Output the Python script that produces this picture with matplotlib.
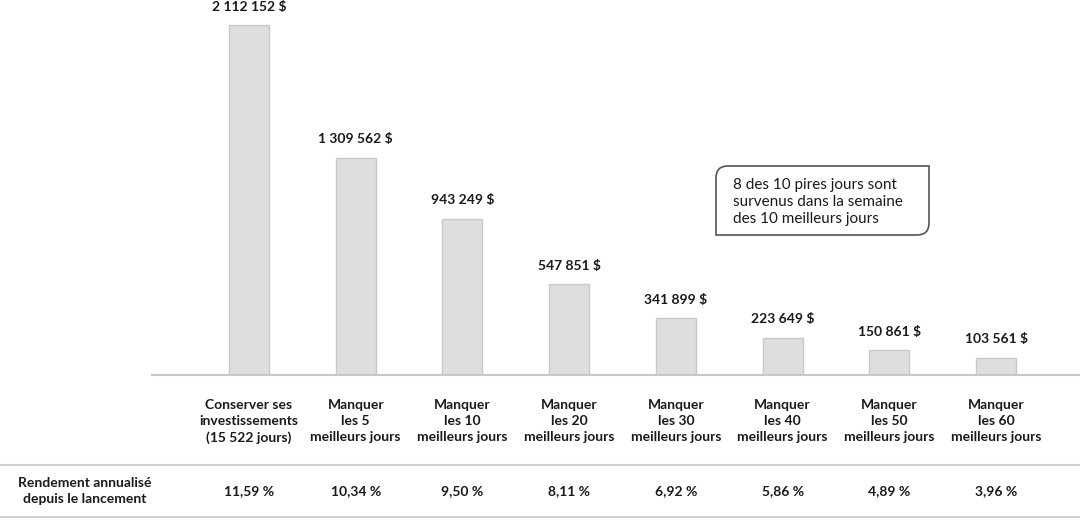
import matplotlib
matplotlib.use("Agg")
import matplotlib.pyplot as plt
from matplotlib.path import Path
from matplotlib.patches import PathPatch

categories = ["Conserver ses\ninvestissements\n(15 522 jours)",
              "Manquer\nles 5\nmeilleurs jours",
              "Manquer\nles 10\nmeilleurs jours",
              "Manquer\nles 20\nmeilleurs jours",
              "Manquer\nles 30\nmeilleurs jours",
              "Manquer\nles 40\nmeilleurs jours",
              "Manquer\nles 50\nmeilleurs jours",
              "Manquer\nles 60\nmeilleurs jours"]
values = [2112152, 1309562, 943249, 547851, 341899, 223649, 150861, 103561]
value_labels = ["2 112 152 $", "1 309 562 $", "943 249 $", "547 851 $",
                "341 899 $", "223 649 $", "150 861 $", "103 561 $"]
returns = ["11,59 %", "10,34 %", "9,50 %", "8,11 %", "6,92 %", "5,86 %", "4,89 %", "3,96 %"]
row_label = "Rendement annualisé\ndepuis le lancement"
note = "8 des 10 pires jours sont\nsurvenus dans la semaine\ndes 10 meilleurs jours"

plt.rcParams['font.family'] = ['Lato', 'DejaVu Sans']
W, H = 1080, 525
fig = plt.figure(figsize=(W / 100, H / 100), dpi=100)

def fx(px):
    return px / W

def fy(py):
    return 1 - py / H

ax = fig.add_axes([fx(152), fy(375), fx(1080 - 152), fy(0) - fy(375)])
x = list(range(len(values)))
ax.bar(x, values, width=0.375, color="#dedede", edgecolor="#c9c9c9", linewidth=1, zorder=2)
ax.set_xlim(-0.909, 7.787)
ax.set_ylim(0, max(values) * 375 / 350)
for s in ["top", "right", "left"]:
    ax.spines[s].set_visible(False)
ax.spines["bottom"].set_color("#c8c8c8")
ax.spines["bottom"].set_linewidth(1.5)
ax.set_yticks([])
ax.set_xticks(x)
ax.set_xticklabels(categories, fontsize=10, fontweight="bold", color="#1a1a1a", linespacing=1.4)
ax.tick_params(axis="x", length=0, pad=17)

for xi, v, lab in zip(x, values, value_labels):
    ax.annotate(lab, (xi, v), xytext=(0, 9), textcoords="offset points",
                ha="center", va="bottom", fontsize=10, fontweight="bold", color="#1a1a1a")

# table lines
for py in (465, 517):
    fig.add_artist(plt.Line2D([0, 1], [fy(py), fy(py)], color="#d0d0d0", lw=1.5))

fig.text(fx(85), fy(491), row_label, ha="center", va="center", fontsize=10,
         fontweight="bold", color="#1a1a1a", linespacing=1.35)
for xi, r in zip(x, returns):
    xd = ax.transData.transform((xi, 0))[0]
    fig.text(xd / W, fy(491), r, ha="center", va="center", fontsize=10,
             fontweight="bold", color="#1a1a1a")

# note box with rounded top-left and bottom-right corners
x0, x1, y0, y1, r = fx(716), fx(929), fy(235), fy(166), 12
rx, ry = r / W, r / H
verts = [(x0, y0), (x1 - rx, y0), (x1, y0), (x1, y0 + ry), (x1, y1), (x0 + rx, y1),
         (x0, y1), (x0, y1 - ry), (x0, y0)]
codes = [Path.MOVETO, Path.LINETO, Path.CURVE3, Path.CURVE3, Path.LINETO, Path.LINETO,
         Path.CURVE3, Path.CURVE3, Path.CLOSEPOLY]
fig.add_artist(PathPatch(Path(verts, codes), facecolor="white", edgecolor="#555555",
                         lw=1.2, transform=fig.transFigure))
fig.text(fx(733), fy(202), note, ha="left", va="center", fontsize=11,
         color="#1a1a1a", linespacing=1.3)

fig.savefig("out.png", dpi=100, facecolor="white")
